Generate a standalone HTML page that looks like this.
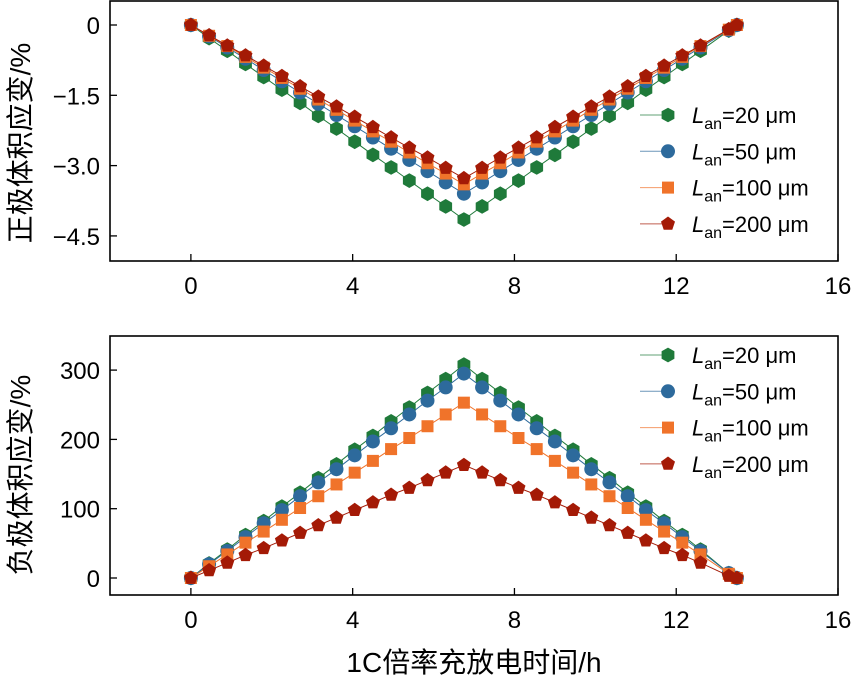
<!DOCTYPE html>
<html><head><meta charset="utf-8"><style>
body{margin:0;background:#fff}
svg{display:block;font-family:"Liberation Sans","Noto Sans CJK SC",sans-serif}
</style></head><body>
<svg id="c" width="854" height="685" viewBox="0 0 854 685"></svg>
<script>
const times=[0,0.45,0.9,1.35,1.8,2.25,2.7,3.15,3.6,4.05,4.5,4.95,5.4,5.85,6.3,6.75,7.2,7.65,8.1,8.55,9,9.45,9.9,10.35,10.8,11.25,11.7,12.15,12.6,13.3,13.5];
const topL20=[0,-0.28,-0.55,-0.83,-1.11,-1.38,-1.66,-1.94,-2.21,-2.49,-2.77,-3.04,-3.32,-3.60,-3.87,-4.15,-3.87,-3.60,-3.32,-3.04,-2.77,-2.49,-2.21,-1.94,-1.66,-1.38,-1.11,-0.83,-0.55,-0.12,0];
const topL50=[0,-0.24,-0.48,-0.72,-0.96,-1.20,-1.44,-1.68,-1.92,-2.16,-2.40,-2.64,-2.88,-3.12,-3.36,-3.60,-3.36,-3.12,-2.88,-2.64,-2.40,-2.16,-1.92,-1.68,-1.44,-1.20,-0.96,-0.72,-0.48,-0.11,0];
const topL100=[0,-0.23,-0.45,-0.68,-0.91,-1.13,-1.36,-1.59,-1.81,-2.04,-2.27,-2.49,-2.72,-2.95,-3.17,-3.40,-3.17,-2.95,-2.72,-2.49,-2.27,-2.04,-1.81,-1.59,-1.36,-1.13,-0.91,-0.68,-0.45,-0.10,0];
const topL200=[0,-0.22,-0.44,-0.65,-0.87,-1.09,-1.31,-1.53,-1.74,-1.96,-2.18,-2.40,-2.62,-2.83,-3.05,-3.27,-3.05,-2.83,-2.62,-2.40,-2.18,-1.96,-1.74,-1.53,-1.31,-1.09,-0.87,-0.65,-0.44,-0.09,0];
const botL20=[0,21,41,62,82,103,123,144,164,185,205,226,246,267,287,308,287,267,246,226,205,185,164,144,123,103,82,62,41,7,0];
const botL50=[0,20,39,59,79,98,118,138,157,177,197,216,236,256,275,295,275,256,236,216,197,177,157,138,118,98,79,59,39,7,0];
const botL100=[0,17,34,51,67,84,101,118,135,152,169,186,202,219,236,253,236,219,202,186,169,152,135,118,101,84,67,51,34,6,0];
const botL200=[0,11,22,33,43,54,65,76,87,98,109,120,130,141,152,163,152,141,130,120,109,98,87,76,65,54,43,33,22,3,0];
const xTicks=[0,4,8,12,16];
const topTicks=[0,-1.5,-3.0,-4.5];
const topTickLabels=["0","\u22121.5","\u22123.0","\u22124.5"];
const botTicks=[0,100,200,300];
const seriesNames=["20","50","100","200"];
const colors=["#1f7a3a","#2d6a9c","#f0732a","#a41a06"];
const shapes=["hex","circle","square","pent"];

const svg=document.getElementById('c');
const NS="http://www.w3.org/2000/svg";
function mk(tag,attrs,parent){const e=document.createElementNS(NS,tag);for(const k in attrs)e.setAttribute(k,attrs[k]);(parent||svg).appendChild(e);return e;}
const X0=110,X1=838;
const xs=t=>X0+(t+2)/18*(X1-X0);
const yTop=v=>25+(-v)*46.87;
const yBot=v=>578-v*0.693;

function marker(shape,cx,cy,col,g){
  const r=7;let el;
  if(shape==="circle")el=mk('circle',{cx,cy,r:7,fill:col},g);
  else if(shape==="square")el=mk('rect',{x:cx-6,y:cy-6,width:12,height:12,fill:col},g);
  else{const n=shape==="hex"?6:5;const pts=[];for(let i=0;i<n;i++){const a=-Math.PI/2+i*2*Math.PI/n;pts.push((cx+r*1.05*Math.cos(a)).toFixed(1)+","+(cy+r*1.05*Math.sin(a)).toFixed(1));}el=mk('polygon',{points:pts.join(' '),fill:col},g);}
  return el;
}

function panel(name,yT,yB,yf,ticks,tlabels,series,legY){
  const g=mk('g',{});
  
  
  series.forEach((vals,si)=>{
    const sg=mk('g',{},g);
    
    
    mk('polyline',{points:vals.map((v,i)=>xs(times[i]).toFixed(1)+","+yf(v).toFixed(1)).join(' '),fill:'none',stroke:colors[si],'stroke-width':1},sg);
    vals.forEach((v,i)=>{const m=marker(shapes[si],xs(times[i]),yf(v),colors[si],sg);
      
      });
  });
  const fr=mk('rect',{x:X0,y:yT,width:X1-X0,height:yB-yT,fill:'none',stroke:'#000','stroke-width':1.6},g);
  
  
  xTicks.forEach(t=>{mk('line',{x1:xs(t),x2:xs(t),y1:yB,y2:yB-7,stroke:'#000','stroke-width':1.3},g);
    const tx=mk('text',{x:xs(t),y:yB+33,'font-size':24,'text-anchor':'middle'},g);tx.textContent=t;
    
    });
  ticks.forEach((v,i)=>{mk('line',{x1:X0,x2:X0+7,y1:yf(v),y2:yf(v),stroke:'#000','stroke-width':1.3},g);
    const tx=mk('text',{x:X0-10,y:yf(v)+9,'font-size':24,'text-anchor':'end'},g);tx.textContent=tlabels[i];
    
    });
  seriesNames.forEach((n,si)=>{
    const ly=legY+si*36.3;
    const lg=mk('g',{},g);
    
    
    mk('line',{x1:640,x2:668,y1:ly,y2:ly,stroke:colors[si],'stroke-width':1,opacity:0.7},lg);
    marker(shapes[si],668,ly,colors[si],lg);
    const t=mk('text',{x:692,y:ly+8,'font-size':22},lg);
    t.innerHTML='<tspan font-style="italic">L</tspan><tspan font-size="16" dy="6">an</tspan><tspan dy="-6">='+n+' \u03bcm</tspan>';
  });
}
panel('top-panel',1,261,yTop,topTicks,topTickLabels,[topL20,topL50,topL100,topL200],115);
panel('bottom-panel',336,595,yBot,botTicks,botTicks.map(String),[botL20,botL50,botL100,botL200],355);

function label(txt,x,y,rot,name){const t=mk('text',{x,y,'font-size':28,'text-anchor':'middle',transform:rot?`rotate(-90 ${x} ${y})`:''});t.textContent=txt;
  
  }
label('正极体积应变/%',30,143,true,'top-y-axis-title');
label('负极体积应变/%',30,475,true,'bottom-y-axis-title');
label('1C倍率充放电时间/h',474,672,false,'x-axis-title');
</script>
</body></html>
